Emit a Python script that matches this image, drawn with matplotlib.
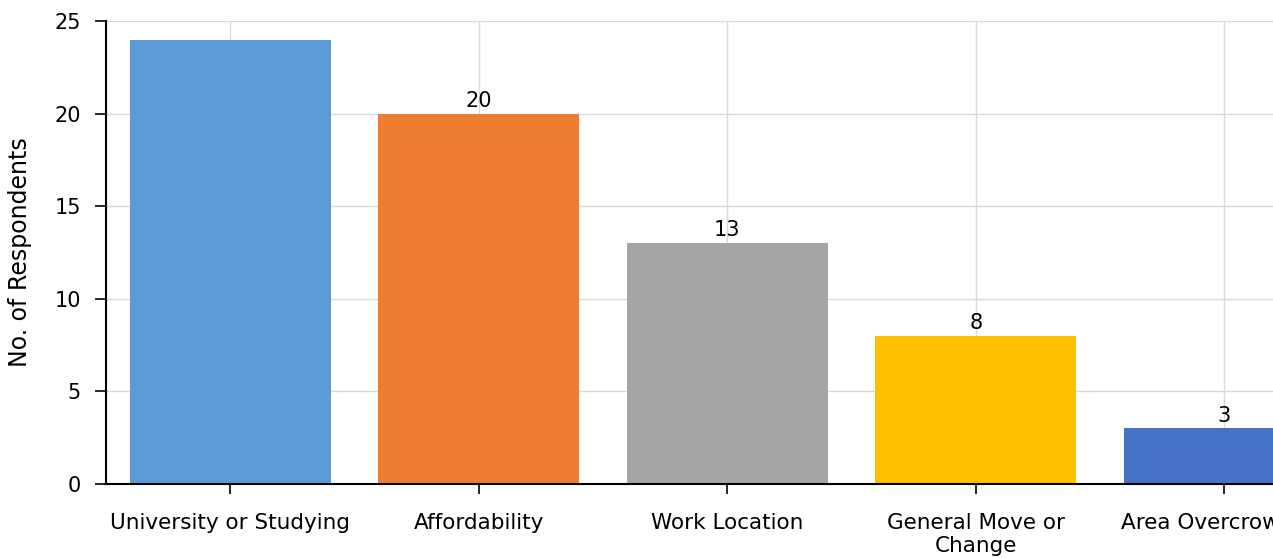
import matplotlib
matplotlib.use('Agg')
import matplotlib.pyplot as plt

categories = ['University or Studying', 'Affordability', 'Work Location',
              'General Move or\nChange', 'Area Overcrowding']
values = [24, 20, 13, 8, 3]
colors = ['#5B9BD5', '#ED7D31', '#A5A5A5', '#FFC000', '#4472C4']
y_ticks = [0, 5, 10, 15, 20, 25]

W, H = 1273, 558
fig = plt.figure(figsize=(W / 100, H / 100), dpi=100)
# axes run past the right edge of the figure, as in the reference
left, right = 106, 106 + 6 * 248.5
bottom, top = 484, 21
ax = fig.add_axes([left / W, (H - bottom) / H, (right - left) / W, (bottom - top) / H])

x = list(range(len(categories)))
bars = ax.bar(x, values, width=0.81, color=colors, zorder=2)

for i, b in enumerate(bars):
    if i == 0:
        continue
    ax.annotate(f"{values[i]}", (b.get_x() + b.get_width() / 2, b.get_height()),
                textcoords='offset points', xytext=(0, 2), ha='center', va='bottom',
                fontsize=15)

ax.set_xlim(-0.5, 5.5)
ax.set_ylim(0, 25)
ax.set_yticks(y_ticks)
ax.set_xticks(x)
ax.set_xticklabels(categories, fontsize=15.5, linespacing=1.15)
ax.tick_params(axis='y', labelsize=15, length=8, width=1.2, pad=10)
ax.tick_params(axis='x', length=7, width=1.2, pad=14)
ax.set_ylabel('No. of Respondents', fontsize=17, labelpad=16)

ax.grid(True, color='#d9d9d9', linewidth=1, zorder=0)
ax.set_axisbelow(True)
for s in ['top', 'right']:
    ax.spines[s].set_visible(False)
for s in ['left', 'bottom']:
    ax.spines[s].set_linewidth(1.5)
    ax.spines[s].set_color('black')

plt.savefig('out.png', dpi=100)
